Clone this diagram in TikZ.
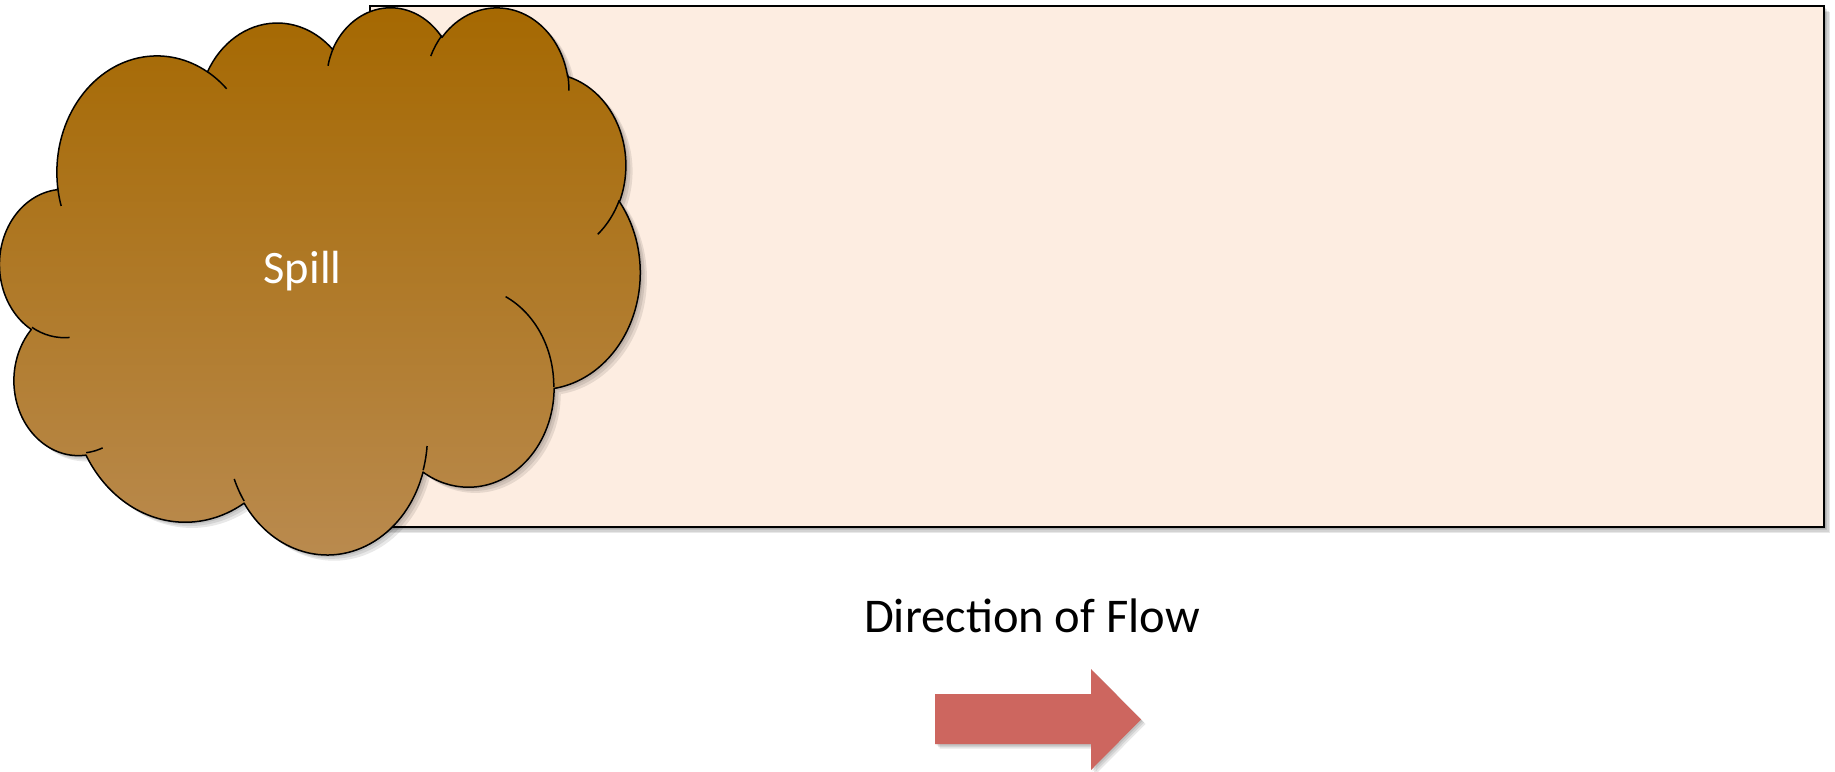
\documentclass[tikz,border=0pt]{standalone}
\usepackage{fontspec}
\setmainfont{Carlito}
\definecolor{rectfill}{RGB}{253,237,225}
\definecolor{cloudtop}{RGB}{165,104,0}
\definecolor{cloudbot}{RGB}{186,139,80}
\definecolor{arrowfill}{RGB}{205,102,95}
\newcommand\cxs{1.48148}
\newcommand\cys{1.26620}
% OOXML-like arcTo: wR hR stAng swAng (degrees, visual angles, y down)
\newcommand\carc[4]{arc[x radius={#1*\cxs*1pt}, y radius={#2*\cys*1pt}, start angle={-atan2(#1*sin(#3),#2*cos(#3))}, delta angle={-mod(atan2(#1*sin(#3+#4),#2*cos(#3+#4))-atan2(#1*sin(#3),#2*cos(#3))+720,360)}]}
\newcommand\cloudoutline{(39.00,143.70)
 \carc{67.53}{91.90}{-190.4875}{123.7805}
 \carc{53.33}{72.67}{-144.1024}{89.9452}
 \carc{43.65}{59.45}{-145.8079}{99.7230}
 \carc{48.57}{65.95}{-130.9861}{117.2417}
 \carc{53.33}{72.73}{-78.7089}{109.0269}
 \carc{67.75}{92.20}{-46.2673}{130.2690}
 \carc{57.85}{78.67}{0.6250}{114.0333}
 \carc{67.52}{92.15}{22.4516}{115.1726}
 \carc{77.20}{105.43}{66.2426}{75.7110}
 \carc{43.60}{59.18}{-274.9421}{146.7356}
 \carc{43.45}{59.45}{-246.8285}{152.5189} -- cycle}
\newcommand\cloudhooks{
 (46.93,261.77) \carc{43.45}{59.45}{86.7420}{26.4295}
 (69.28,348.99) \carc{43.60}{59.18}{73.6105}{11.4475}
 (164.78,390.90) \carc{67.52}{92.15}{137.6242}{14.0811}
 (288.27,347.51) \carc{67.52}{92.15}{6.4533}{15.9984}
 (341.29,229.54) \carc{57.85}{78.67}{-70.2924}{70.9174}
 (417.98,153.54) \carc{53.33}{72.73}{30.3180}{27.7515}
 (383.24,54.26) \carc{48.57}{65.95}{-13.7443}{14.8589}
 (290.78,39.52) \carc{48.57}{65.95}{-149.1815}{18.1954}
 (221.41,47.20) \carc{43.65}{59.45}{-163.4943}{17.6864}
 (140.00,51.92) \carc{67.53}{91.90}{-66.7070}{12.3194}
 (41.27,157.89) \carc{67.53}{91.90}{157.6544}{11.8582}}
\tikzset{
  softshadow/.style={fill=black, opacity=0.09},
  outline/.style={draw=black, line width=1.5pt},
}
\begin{document}
\begin{tikzpicture}[x=1pt, y=-1pt]
\useasboundingbox (0,0) rectangle (1835,771);
\fill[white] (0,0) rectangle (1835,771);
% channel shadow
\foreach \d in {1.5,3,4.5,6}{\fill[softshadow] (370+\d,6+\d) rectangle (1824+\d,527+\d);}
\node[draw=black, line width=1.9pt, fill=rectfill, minimum width=1454pt, minimum height=521pt, inner sep=0pt, outer sep=0pt] (channel) at (1097,266.5) {};
% cloud
\begin{scope}[shift={(0,6)}, x=1.48148pt, y=-1.26620pt]
  \foreach \d in {1.5,3,4.5}{\fill[softshadow, shift={(\d,\d)}] \cloudoutline;}
  \shade[top color=cloudtop, bottom color=cloudbot] \cloudoutline;
  \draw[outline, line join=round] \cloudoutline;
  \draw[outline, line cap=butt] \cloudhooks;
\end{scope}
\node[font=\fontsize{46.5}{56}\selectfont, text=white, anchor=base, inner sep=0pt] (spill) at (302.5,283) {Spill};
% direction label
\node[font=\fontsize{48.5}{58}\selectfont, anchor=base, inner sep=0pt] (flow) at (1032,632) {Direction of Flow};
% arrow
\foreach \d in {1.5,3,4.5}{\fill[softshadow, shift={(\d,\d)}] (935,694) -- (1091,694) -- (1091,669) -- (1141,719.5) -- (1091,770) -- (1091,744) -- (935,744) -- cycle;}
\fill[arrowfill] (935,694) -- (1091,694) -- (1091,669) -- (1141,719.5) -- (1091,770) -- (1091,744) -- (935,744) -- cycle;
\end{tikzpicture}
\end{document}
